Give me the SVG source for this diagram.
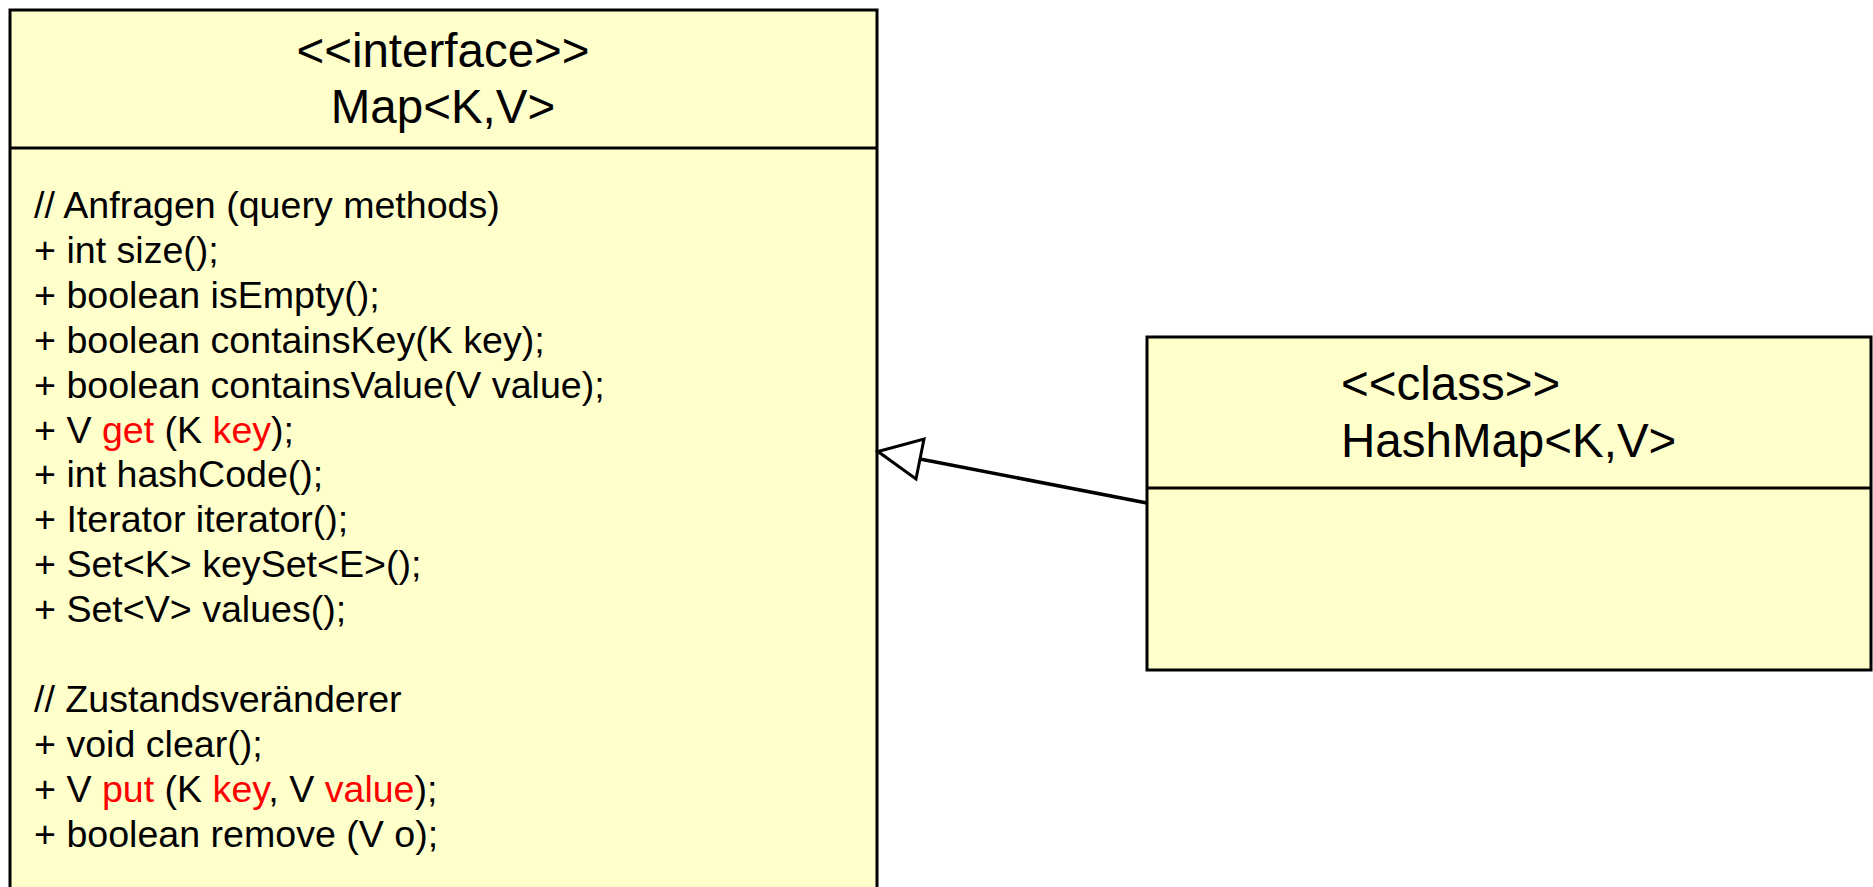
<svg xmlns="http://www.w3.org/2000/svg" width="1873" height="887" viewBox="0 0 1873 887">
<style>
.box{fill:#FFFFCC;stroke:#000;stroke-width:3}
.div{stroke:#000;stroke-width:3}
.hd{font-family:"Liberation Sans",Arial,sans-serif;font-size:47.5px;fill:#000}
.bd{font-family:"Liberation Sans",Arial,sans-serif;font-size:37.6px;fill:#000}
.r{fill:#FF0000}
.conn{fill:none;stroke:#000;stroke-width:3.5}
.head{fill:#fff;stroke:#000;stroke-width:3}
</style>
<rect width="1873" height="887" fill="#fff"/>
<g id="map">
<rect class="box" x="10" y="10" width="867" height="900"/>
<line class="div" x1="10" y1="148" x2="877" y2="148"/>
<text class="hd" x="443" y="67" text-anchor="middle">&lt;&lt;interface&gt;&gt;</text>
<text class="hd" x="443" y="123" text-anchor="middle">Map&lt;K,V&gt;</text>
<text class="bd" x="34" y="218">// Anfragen (query methods)</text>
<text class="bd" x="34" y="262.9">+ int size();</text>
<text class="bd" x="34" y="307.8">+ boolean isEmpty();</text>
<text class="bd" x="34" y="352.7">+ boolean containsKey(K key);</text>
<text class="bd" x="34" y="397.6">+ boolean containsValue(V value);</text>
<text class="bd" x="34" y="442.5">+ V <tspan class="r">get</tspan> (K <tspan class="r">key</tspan>);</text>
<text class="bd" x="34" y="487.4">+ int hashCode();</text>
<text class="bd" x="34" y="532.3">+ Iterator iterator();</text>
<text class="bd" x="34" y="577.2">+ Set&lt;K&gt; keySet&lt;E&gt;();</text>
<text class="bd" x="34" y="622.1">+ Set&lt;V&gt; values();</text>
<text class="bd" x="34" y="711.9">// Zustandsveränderer</text>
<text class="bd" x="34" y="756.8">+ void clear();</text>
<text class="bd" x="34" y="801.7">+ V <tspan class="r">put</tspan> (K <tspan class="r">key</tspan>, V <tspan class="r">value</tspan>);</text>
<text class="bd" x="34" y="846.6">+ boolean remove (V o);</text>
</g>
<g id="hashmap">
<rect class="box" x="1147" y="337" width="724" height="333"/>
<line class="div" x1="1147" y1="488" x2="1871" y2="488"/>
<text class="hd" x="1341" y="400">&lt;&lt;class&gt;&gt;</text>
<text class="hd" x="1341" y="457">HashMap&lt;K,V&gt;</text>
</g>
<g id="connectors">
<line class="conn" x1="920" y1="459" x2="1147" y2="503"/>
<polygon class="head" points="878,451.5 924,439 916,479"/>
</g>
</svg>
